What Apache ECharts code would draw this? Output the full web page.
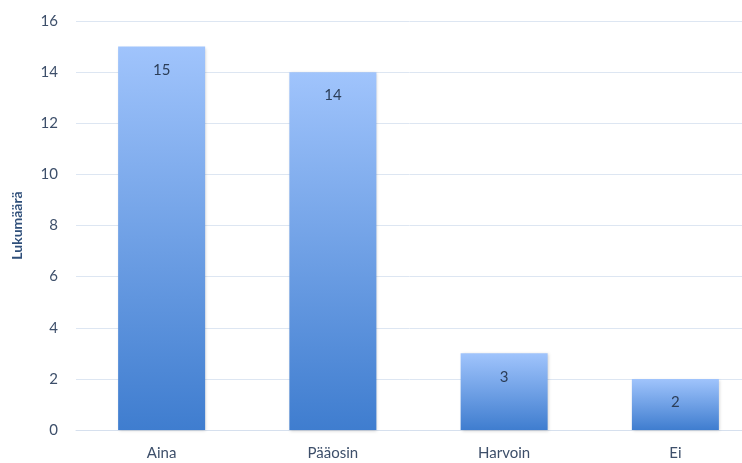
<!DOCTYPE html>
<html>
<head>
<meta charset="utf-8">
<script src="https://cdn.jsdelivr.net/npm/echarts@6/dist/echarts.min.js"></script>
<style>
  html, body { margin: 0; padding: 0; background: #fff; }
  #chart { width: 742px; height: 463px; }
</style>
</head>
<body>
<div id="chart"></div>
<script>
  const categories = ['Aina', 'Pääosin', 'Harvoin', 'Ei'];
  const counts = [15, 14, 3, 2];
  const yTicks = [0, 2, 4, 6, 8, 10, 12, 14, 16];

  var chart = echarts.init(document.getElementById('chart'));

  var option = {
    animation: false,
    textStyle: { fontFamily: 'Lato' },
    grid: { left: 76, width: 685, top: 21, bottom: 33, outerBoundsMode: 'none' },
    xAxis: {
      type: 'category',
      data: categories,
      axisLine: { lineStyle: { color: '#d6e0ee', width: 1 } },
      axisTick: { show: false },
      axisLabel: { color: '#3d4f6a', fontSize: 15, margin: 16 }
    },
    yAxis: {
      type: 'value',
      min: yTicks[0],
      max: yTicks[yTicks.length - 1],
      interval: 2,
      name: 'Lukumäärä',
      nameLocation: 'middle',
      nameGap: 52,
      nameTextStyle: { color: '#2f4f7a', fontSize: 14, fontWeight: 'bold' },
      axisLine: { show: false },
      axisTick: { show: false },
      axisLabel: { color: '#3d4f6a', fontSize: 15, margin: 18 },
      splitLine: { lineStyle: { color: '#dde6f2', width: 1 } }
    },
    series: [
      {
        type: 'bar',
        data: counts,
        barWidth: 87,
        itemStyle: {
          color: new echarts.graphic.LinearGradient(0, 0, 0, 1, [
            { offset: 0, color: '#a0c4fc' },
            { offset: 1, color: '#3f7dcf' }
          ]),
          shadowBlur: 3,
          shadowColor: 'rgba(0,0,0,0.18)',
          shadowOffsetX: 1,
          shadowOffsetY: 1
        },
        label: {
          show: true,
          position: 'insideTop',
          distance: 16,
          color: '#2c3e58',
          fontSize: 15
        }
      }
    ]
  };

  chart.setOption(option);
</script>
</body>
</html>
